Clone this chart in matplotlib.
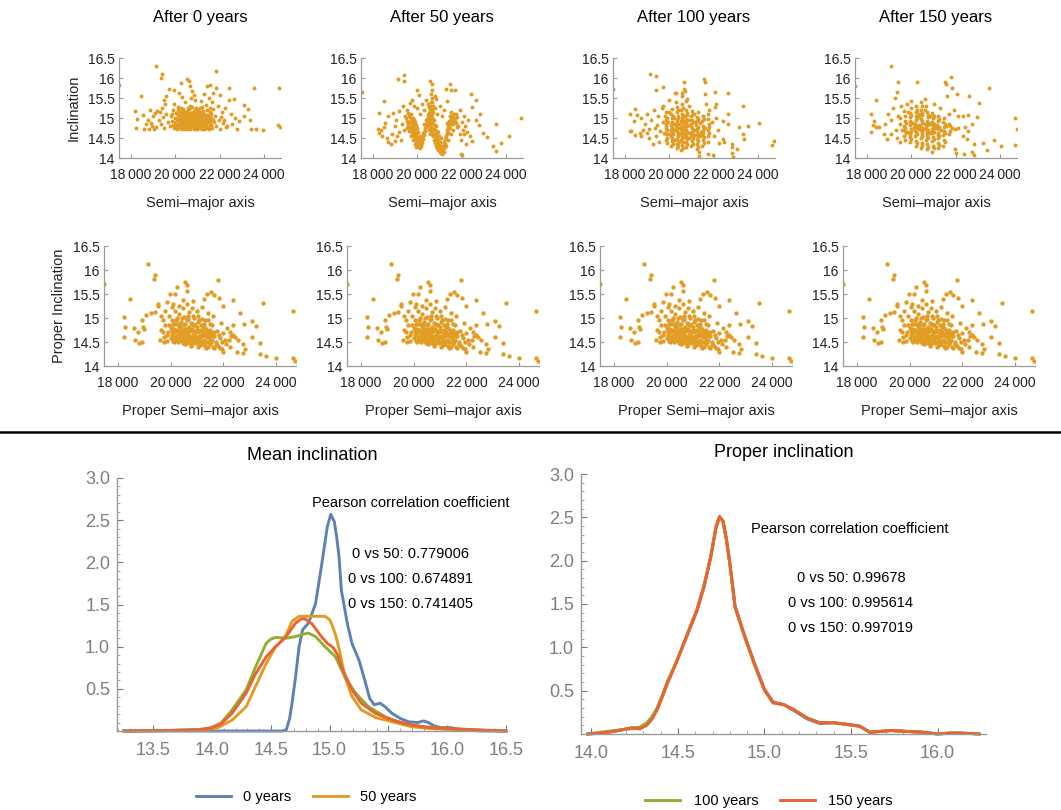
import numpy as np
import matplotlib
matplotlib.use("Agg")
import matplotlib.pyplot as plt
from matplotlib.lines import Line2D
from matplotlib.ticker import FuncFormatter, MultipleLocator

plt.rcParams['font.family'] = ['Liberation Sans', 'DejaVu Sans']

# ---- scatter data: (semi-major axis [km], inclination [deg]) ----
mean_0 = [
    (17480, 15.83), (19120, 16.30), (19390, 16.09), (19360, 16.01), (18450, 15.55), (18190, 15.17),
    (18300, 14.97), (18220, 14.75), (18570, 15.07), (18600, 14.72), (18820, 14.72), (20240, 15.88),
    (20540, 15.98), (20610, 15.93), (20640, 15.80), (21810, 16.17), (21430, 15.80), (21580, 15.83),
    (21840, 15.76), (22400, 15.76), (23550, 15.76), (24640, 15.76), (22030, 15.58), (22630, 15.48),
    (22400, 15.44), (23070, 15.33), (23270, 15.22), (23070, 15.04), (23370, 14.94), (23410, 14.73),
    (23640, 14.72), (23940, 14.70), (24620, 14.82), (24700, 14.77), (22000, 14.72), (22330, 14.80),
    (22790, 14.72), (22860, 14.92), (19720, 15.73), (19920, 15.71), (20160, 15.63), (20290, 15.52),
    (20760, 15.67), (20840, 15.58),
    (18780, 14.95), (18900, 14.88), (19000, 15.05), (18950, 14.80), (19100, 15.12), (19200, 15.18),
    (19300, 15.15), (19400, 15.25), (19150, 14.78), (19250, 14.95), (19350, 14.85), (19450, 15.02),
    (19500, 14.75), (19550, 15.35), (19600, 15.10), (19650, 14.90), (18700, 14.85), (18870, 15.20),
    (19050, 14.72), (19480, 15.45), (19600, 15.55),
    (19750, 14.80), (19800, 15.05), (19850, 14.92), (19900, 15.20), (19950, 14.75), (20000, 15.00),
    (20020, 14.86), (20050, 15.12), (20080, 14.73), (20100, 14.95), (20130, 15.28), (20150, 14.82),
    (20180, 15.05), (20200, 14.90), (20220, 15.15), (20250, 14.76), (20270, 14.98), (20300, 15.08),
    (20320, 14.85), (20350, 15.22), (20370, 14.93), (20400, 15.02), (20420, 14.78), (20450, 15.12),
    (20470, 14.88), (20500, 15.00), (20520, 14.72), (20540, 15.18), (20560, 14.95), (20590, 14.83),
    (20610, 15.06), (20630, 14.92), (20660, 15.30), (20680, 14.75), (20700, 15.00), (20720, 14.87),
    (20750, 15.10), (20770, 14.96), (20800, 14.80), (20820, 15.04), (20850, 14.90), (20870, 15.20),
    (20900, 14.74), (20920, 15.00), (20950, 14.86), (20970, 15.12), (21000, 14.95), (21030, 14.78),
    (21050, 15.05), (21080, 14.90), (21100, 15.25), (21130, 14.82), (21150, 15.00), (21180, 14.72),
    (21200, 15.10), (21230, 14.93), (21260, 15.18), (21290, 14.80), (21320, 15.02), (21350, 14.88),
    (21380, 15.32), (21400, 14.76), (21440, 15.08), (21470, 14.95), (21500, 14.72), (21540, 15.15),
    (21580, 14.85), (21620, 15.00), (21660, 14.74), (21700, 15.22), (21750, 14.90), (21800, 15.05),
    (20060, 14.98), (20140, 15.08), (20210, 14.96), (20290, 15.00), (20340, 14.94), (20390, 14.88),
    (20440, 15.04), (20490, 14.94), (20530, 14.86), (20580, 15.02), (20640, 14.98), (20690, 15.08),
    (20740, 14.92), (20790, 15.02), (20840, 14.96), (20890, 15.08), (20940, 14.94), (20990, 15.02),
    (21040, 14.98), (21090, 14.84), (21140, 15.06), (21190, 14.90), (21240, 15.00), (21310, 14.94),
    (21370, 15.02), (21430, 14.90), (21520, 14.96), (21600, 15.10), (20120, 14.78), (20230, 14.84),
    (20330, 14.78), (20480, 14.80), (20570, 14.76), (20710, 14.80), (20860, 14.78), (21010, 14.84),
    (21160, 14.80), (21330, 14.76), (20410, 15.16), (20610, 15.22), (20810, 15.15), (21010, 15.20),
    (20260, 15.24), (21210, 15.28), (21650, 15.40), (21900, 15.30), (21950, 14.95), (22100, 15.15),
    (22150, 14.88), (22250, 15.25), (22300, 14.78), (22500, 15.10), (22550, 14.85), (22700, 15.00),
    (20450, 15.40), (20900, 15.45), (21150, 15.42), (21500, 15.50), (19950, 15.35), (20700, 15.50),
    (21300, 15.60), (21700, 15.62),
    (20210, 14.88), (20260, 15.06), (20310, 14.92), (20360, 15.10), (20410, 14.84), (20460, 14.97),
    (20510, 15.08), (20560, 14.90), (20610, 14.80), (20660, 14.95), (20710, 15.12), (20760, 14.85),
    (20810, 14.98), (20860, 15.10), (20910, 14.90), (20960, 14.80), (21010, 15.00), (21060, 15.14),
    (21110, 14.92), (21160, 15.04), (21210, 14.86), (21260, 14.96), (21310, 15.10), (21360, 14.82),
    (21410, 15.00), (21460, 14.78), (21510, 15.06), (21560, 14.92), (21610, 14.82), (21710, 14.96),
    (20000, 14.90), (19900, 14.82), (19850, 15.10), (20050, 14.80), (20170, 14.95), (20240, 14.72),
    (20380, 14.73), (20500, 14.74), (20650, 14.72), (20820, 14.73), (20980, 14.72), (21120, 14.74),
    (21280, 14.73), (21450, 14.74), (20300, 15.15), (20550, 15.25), (20750, 15.28), (20950, 15.25),
    (21100, 15.15), (21420, 15.20), (20430, 14.99), (20620, 15.12), (20880, 15.00), (21070, 14.90),
    (21270, 15.08), (20140, 15.20), (21850, 14.80), (22050, 15.02), (22200, 14.95), (21580, 15.25),
]

mean_50 = [
    (17530, 15.65), (18490, 15.42), (18270, 15.13), (18240, 14.72), (18390, 14.70), (18300, 14.62),
    (18420, 14.55), (18500, 14.78), (18620, 14.50), (18680, 14.40), (18800, 14.35), (18550, 14.88),
    (18700, 15.05), (18850, 14.60), (19000, 14.80), (19150, 15.98), (19420, 16.08), (19400, 15.93),
    (19970, 15.71), (20070, 15.57), (20570, 15.92), (20640, 15.86), (20680, 15.70), (20610, 15.60),
    (20790, 15.55), (20840, 15.48), (21460, 15.85), (21280, 15.72), (21530, 15.70), (21700, 15.70),
    (21340, 15.42), (22410, 15.59), (22440, 15.28), (22640, 15.45), (22820, 15.10), (22630, 14.95),
    (22780, 14.82), (22930, 14.62), (23150, 14.52), (23380, 14.30), (23530, 14.18), (23760, 14.38),
    (24100, 14.55), (24640, 14.99), (23550, 14.85), (22010, 14.07), (21970, 14.10), (22200, 14.35),
    (22350, 14.55), (22100, 14.60), (22450, 14.42),
    (18900, 15.12), (19050, 14.95), (19200, 15.18), (19300, 14.85), (19350, 15.30), (19100, 14.55),
    (19250, 14.45), (19400, 14.70), (19450, 15.05), (19550, 15.20), (19650, 15.38), (19750, 15.45),
    (19850, 15.30), (19200, 14.65), (19000, 14.42),
    (19500, 15.00), (19550, 14.92), (19600, 14.85), (19620, 15.05), (19650, 14.78), (19700, 14.95),
    (19720, 14.70), (19750, 14.85), (19780, 14.62), (19800, 14.78), (19830, 14.55), (19850, 14.70),
    (19880, 14.48), (19900, 14.62), (19930, 14.42), (19950, 14.55), (19980, 14.36), (20000, 14.50),
    (20030, 14.30), (20050, 14.42), (20080, 14.27), (20100, 14.35), (20120, 14.25), (20130, 14.45),
    (19700, 15.10), (19800, 15.00), (19900, 14.90), (20000, 14.75), (20050, 14.65), (20100, 14.55),
    (19950, 14.82), (19850, 14.95), (20150, 14.40),
    (20150, 14.30), (20180, 14.42), (20200, 14.38), (20220, 14.55), (20250, 14.48), (20280, 14.65),
    (20300, 14.58), (20330, 14.75), (20350, 14.68), (20380, 14.85), (20400, 14.78), (20430, 14.95),
    (20450, 14.88), (20480, 15.05), (20500, 14.98), (20530, 15.12), (20550, 15.02), (20580, 15.20),
    (20600, 14.90), (20620, 15.30), (20640, 15.00), (20650, 14.75), (20660, 15.10), (20670, 14.62),
    (20680, 15.40), (20600, 15.15), (20630, 14.85), (20700, 14.95), (20560, 14.78), (20520, 14.70),
    (20480, 14.80),
    (20700, 14.55), (20720, 14.85), (20750, 14.45), (20770, 14.72), (20800, 14.38), (20820, 14.62),
    (20850, 14.30), (20870, 14.55), (20900, 14.25), (20920, 14.45), (20950, 14.20), (20970, 14.38),
    (21000, 14.16), (21020, 14.30), (21050, 14.12), (21080, 14.25), (21100, 14.10), (21130, 14.20),
    (21160, 14.15), (20760, 14.95), (20850, 14.80), (20950, 14.65), (21050, 14.50),
    (21200, 14.25), (21220, 14.40), (21250, 14.35), (21280, 14.55), (21300, 14.48), (21330, 14.70),
    (21350, 14.62), (21380, 14.82), (21400, 14.75), (21430, 14.92), (21460, 14.85), (21500, 15.00),
    (21530, 14.92), (21560, 15.05), (21600, 14.95), (21650, 15.10), (21700, 15.00), (21750, 14.88),
    (21800, 15.02), (21300, 14.30), (21400, 14.45), (21500, 14.60), (21600, 14.70),
    (21850, 14.80), (21900, 14.60), (21950, 14.45), (22000, 14.90), (22050, 14.70), (22150, 14.80),
    (22250, 14.65), (22300, 14.95), (21900, 15.20), (22100, 15.05),
    (20300, 15.20), (20200, 15.35), (20400, 15.45), (20500, 15.35), (20800, 15.25), (20900, 15.10),
    (21000, 15.30), (21100, 15.05), (21200, 15.20), (20100, 15.10), (20000, 15.25),
    (19560, 14.80), (19640, 14.68), (19720, 14.55), (19800, 14.45), (19880, 14.35), (19960, 14.28),
    (19600, 15.12), (19680, 15.02), (19760, 14.92), (19840, 14.82), (19920, 14.72), (20000, 14.62),
    (20070, 14.48), (20170, 14.55), (20250, 14.62), (20320, 14.85), (20400, 14.95), (20470, 15.10),
    (20540, 15.28), (20600, 15.40), (20650, 15.50), (20700, 15.30), (20620, 14.70), (20590, 14.60),
    (20660, 14.88), (20640, 15.22), (20600, 15.05), (20690, 15.15), (20730, 14.70), (20780, 14.60),
    (20830, 14.50), (20880, 14.40), (20930, 14.32), (20980, 14.25), (20800, 14.82), (20880, 14.68),
    (20960, 14.55), (21030, 14.40), (21100, 14.30), (21180, 14.35), (21250, 14.48), (21320, 14.60),
    (21400, 14.65), (21470, 14.75), (21550, 14.85), (21350, 14.88), (21450, 15.05), (21530, 15.15),
    (21620, 14.85), (21680, 14.92), (21200, 14.15), (21060, 14.22), (19650, 14.90), (19550, 14.75),
    (20500, 14.88), (20560, 14.95), (20540, 15.08), (20460, 15.00), (21720, 15.10), (21780, 14.78),
]

mean_100 = [
    (17470, 15.72), (19150, 16.11), (19410, 16.04), (19380, 15.71), (19730, 15.77), (20320, 15.62),
    (20250, 15.63), (20570, 15.62), (20650, 15.90), (20650, 15.72), (20720, 15.68), (20550, 15.55),
    (20810, 15.48), (21540, 15.97), (21600, 15.90), (21610, 15.60), (22050, 15.65), (22650, 15.62),
    (23290, 15.30), (21650, 15.35), (22090, 15.35), (22050, 15.27), (18220, 15.10), (18450, 15.23),
    (18570, 15.07), (18750, 15.00), (18420, 14.93), (18300, 14.68), (18220, 14.67), (18480, 14.58),
    (18700, 14.62), (18750, 14.55), (18820, 14.70), (22650, 15.10), (22430, 14.93), (22650, 14.85),
    (23120, 14.78), (23530, 14.80), (24030, 14.87), (23320, 14.60), (23360, 14.48), (22800, 14.35),
    (22840, 14.27), (22840, 14.12), (22880, 14.02), (23060, 14.23), (24630, 14.32), (24720, 14.42),
    (22430, 14.48), (22240, 14.38), (22480, 14.40), (21970, 14.07), (21720, 14.11), (21320, 14.15),
    (21350, 14.05),
    (18900, 14.85), (19000, 15.10), (19100, 14.72), (19200, 14.95), (19300, 15.20), (19400, 14.55),
    (19450, 14.82), (19500, 15.05), (19550, 14.40), (19600, 14.68), (19650, 15.25), (19100, 14.50),
    (19250, 14.35), (19000, 14.62), (19350, 14.75),
    (19840, 14.45), (19860, 14.60), (19830, 14.72), (19870, 14.85), (19850, 14.95), (19820, 15.05),
    (19860, 15.15), (19880, 14.38), (19840, 14.80),
    (20090, 14.30), (20110, 14.42), (20080, 14.55), (20120, 14.65), (20100, 14.75), (20070, 14.82),
    (20110, 14.90), (20130, 15.00), (20090, 15.10), (20100, 15.22), (20120, 14.50), (20080, 14.70),
    (20340, 14.25), (20360, 14.35), (20330, 14.48), (20370, 14.58), (20350, 14.68), (20320, 14.78),
    (20360, 14.88), (20340, 14.95), (20380, 15.05), (20350, 15.15), (20330, 15.28), (20370, 14.62),
    (20350, 14.85),
    (20540, 14.20), (20560, 14.32), (20530, 14.45), (20570, 14.55), (20550, 14.65), (20520, 14.72),
    (20560, 14.80), (20540, 14.92), (20580, 15.00), (20550, 15.10), (20530, 15.20), (20560, 15.35),
    (20570, 14.50), (20540, 14.75),
    (20740, 14.28), (20760, 14.40), (20730, 14.52), (20770, 14.62), (20750, 14.70), (20720, 14.78),
    (20760, 14.88), (20740, 14.98), (20780, 15.08), (20750, 15.20), (20730, 15.42), (20770, 14.58),
    (20750, 14.85),
    (20990, 14.30), (21010, 14.42), (20980, 14.55), (21020, 14.65), (21000, 14.75), (20970, 14.85),
    (21010, 14.95), (20990, 15.05), (21030, 15.18), (21000, 14.60), (20980, 14.80),
    (21240, 14.22), (21260, 14.35), (21230, 14.48), (21270, 14.60), (21250, 14.72), (21220, 14.82),
    (21260, 14.92), (21240, 15.02), (21280, 15.15), (21250, 14.68),
    (21490, 14.30), (21510, 14.45), (21480, 14.58), (21520, 14.70), (21500, 14.80), (21470, 14.92),
    (21510, 15.05), (21500, 14.62),
    (21740, 14.40), (21760, 14.55), (21730, 14.70), (21770, 14.85), (21750, 14.98), (21720, 15.10),
    (19950, 14.90), (20230, 14.70), (20230, 15.00), (20450, 14.40), (20450, 14.85), (20650, 14.60),
    (20650, 15.05), (20880, 14.50), (20880, 14.95), (21120, 14.70), (21120, 15.10), (21380, 14.55),
    (21380, 14.88), (21620, 14.75), (21900, 14.90), (22000, 14.55), (22100, 15.00), (22200, 14.70),
    (21800, 15.20), (20300, 15.40), (20900, 15.30), (19700, 15.30), (20000, 15.45),
    (19900, 14.50), (19900, 14.70), (19900, 15.00), (20150, 14.35), (20150, 14.60), (20150, 14.85),
    (20150, 15.05), (20400, 14.30), (20400, 14.55), (20400, 14.75), (20400, 15.00), (20400, 15.20),
    (20600, 14.25), (20600, 14.40), (20600, 14.70), (20600, 14.88), (20600, 15.05), (20600, 15.25),
    (20800, 14.35), (20800, 14.48), (20800, 14.65), (20800, 14.80), (20800, 14.95), (20800, 15.12),
    (21050, 14.35), (21050, 14.50), (21050, 14.70), (21050, 14.90), (21050, 15.10), (21300, 14.28),
    (21300, 14.42), (21300, 14.55), (21300, 14.78), (21300, 14.98), (21550, 14.38), (21550, 14.52),
    (21550, 14.75), (21550, 14.98), (21800, 14.62), (21800, 14.78), (20250, 14.45), (20250, 14.85),
    (20480, 14.62), (20680, 14.52), (20680, 14.92), (20920, 14.62), (20920, 14.82), (21170, 14.58),
    (21170, 14.90), (21420, 14.66), (20000, 14.60), (20000, 15.15), (19750, 14.62), (19700, 14.90),
]

mean_150 = [
    (17480, 15.79), (19110, 16.29), (19380, 15.90), (19340, 15.65), (19270, 15.50), (18410, 15.46),
    (18190, 15.09), (18340, 14.92), (18270, 14.83), (18410, 14.77), (18560, 14.77), (18190, 14.65),
    (18780, 14.60), (18900, 14.48), (20250, 15.90), (21520, 15.90), (21560, 15.85), (21790, 16.03),
    (21820, 15.75), (21600, 15.55), (22040, 15.61), (23040, 15.38), (23500, 15.75), (22600, 15.54),
    (22100, 15.05), (22310, 15.05), (22560, 15.07), (22970, 15.02), (22750, 14.85), (22410, 14.77),
    (22530, 14.67), (22310, 14.55), (22500, 14.47), (22830, 14.35), (22750, 14.15), (22800, 14.08),
    (22380, 14.10), (22000, 14.12), (23220, 14.38), (23400, 14.20), (23710, 14.44), (24020, 14.30),
    (24680, 15.01), (24740, 14.73), (24640, 14.33), (21950, 14.22),
    (19690, 14.55), (19710, 14.68), (19680, 14.80), (19720, 14.92), (19700, 15.05), (19690, 15.18),
    (19710, 14.45), (19700, 14.75),
    (19940, 14.40), (19960, 14.52), (19930, 14.62), (19970, 14.72), (19950, 14.82), (19920, 14.92),
    (19960, 15.02), (19940, 15.12), (19980, 15.25), (19950, 14.58),
    (20190, 14.30), (20210, 14.42), (20180, 14.55), (20220, 14.65), (20200, 14.75), (20170, 14.85),
    (20210, 14.95), (20190, 15.05), (20230, 15.15), (20200, 15.30), (20180, 14.70),
    (20440, 14.25), (20460, 14.38), (20430, 14.50), (20470, 14.60), (20450, 14.70), (20420, 14.78),
    (20460, 14.88), (20440, 14.98), (20480, 15.08), (20450, 15.20), (20430, 15.40), (20470, 14.65),
    (20690, 14.22), (20710, 14.35), (20680, 14.45), (20720, 14.55), (20700, 14.65), (20670, 14.75),
    (20710, 14.82), (20690, 14.92), (20730, 15.02), (20700, 15.15), (20680, 15.30), (20720, 14.60),
    (20940, 14.15), (20960, 14.30), (20930, 14.42), (20970, 14.52), (20950, 14.62), (20920, 14.72),
    (20960, 14.80), (20940, 14.90), (20980, 15.00), (20950, 15.12), (20930, 14.68),
    (21190, 14.25), (21210, 14.38), (21180, 14.50), (21220, 14.62), (21200, 14.72), (21170, 14.82),
    (21210, 14.92), (21190, 15.05), (21200, 14.58),
    (21440, 14.30), (21460, 14.45), (21430, 14.58), (21470, 14.68), (21450, 14.78), (21420, 14.90),
    (21460, 15.00),
    (18800, 14.85), (18950, 15.10), (19100, 14.95), (19200, 15.25), (19300, 14.70), (19400, 15.05),
    (19500, 14.85), (19550, 15.30), (19100, 14.60), (19350, 14.50), (19500, 14.40), (21700, 14.60),
    (21700, 14.85), (21850, 14.75), (21950, 14.72), (22100, 14.75), (21700, 15.10), (21900, 15.20),
    (20000, 15.42), (20600, 15.48), (21000, 15.35), (21300, 15.25), (19800, 15.35), (19820, 14.65),
    (20080, 14.88), (20330, 14.82), (20580, 14.72), (20830, 14.85), (21080, 14.75), (21330, 14.70),
    (21580, 14.80), (20330, 15.10), (20830, 15.05),
    (19750, 14.62), (19750, 14.88), (20000, 14.48), (20000, 14.68), (20000, 14.88), (20000, 15.08),
    (20250, 14.38), (20250, 14.60), (20250, 14.80), (20250, 15.00), (20250, 15.20), (20500, 14.32),
    (20500, 14.55), (20500, 14.75), (20500, 14.92), (20500, 15.12), (20500, 15.30), (20750, 14.28),
    (20750, 14.50), (20750, 14.70), (20750, 14.88), (20750, 15.08), (21000, 14.25), (21000, 14.48),
    (21000, 14.65), (21000, 14.85), (21000, 15.05), (21250, 14.32), (21250, 14.55), (21250, 14.78),
    (21250, 14.98), (21500, 14.40), (21500, 14.62), (21500, 14.85), (21750, 14.68), (21750, 14.80),
    (20100, 14.78), (20350, 14.72), (20600, 14.85), (20850, 14.62), (21100, 14.80), (20350, 15.05),
    (20600, 15.20), (19850, 15.15), (19600, 14.70), (19500, 15.00),
]

# proper elements hardly move between epochs, the four lower panels share one cloud
proper_pts = [
    (17475, 15.71), (19125, 16.13), (19400, 15.90), (19375, 15.82), (18440, 15.40), (18210, 15.03),
    (18275, 14.82), (18210, 14.61), (18770, 14.70), (18810, 14.48), (18900, 14.50), (18950, 14.82),
    (19000, 14.78), (18650, 14.55), (18600, 14.80), (18900, 14.95), (19060, 15.07), (19250, 15.10),
    (19400, 15.13), (19500, 15.30), (19500, 15.25), (19850, 15.33), (19960, 15.50), (20160, 15.50),
    (20050, 15.22), (20250, 15.64), (20540, 15.75), (20630, 15.68), (20630, 15.56), (20460, 15.37),
    (21810, 15.80), (21380, 15.51), (21540, 15.54), (21630, 15.48), (21840, 15.42), (22000, 15.25),
    (22375, 15.38), (22630, 15.10), (22790, 14.88), (23090, 14.93), (23250, 14.83), (23500, 15.31),
    (24625, 15.15), (22380, 14.85), (22380, 14.65), (22560, 14.55), (22750, 14.45), (22810, 14.35),
    (22750, 14.27), (22500, 14.30), (22250, 14.40), (23080, 14.60), (23400, 14.48), (23380, 14.25),
    (23630, 14.20), (24000, 14.16), (24625, 14.16), (24725, 14.10), (21950, 14.35), (22000, 14.30),
    (21850, 14.38),
    (19600, 14.55), (19650, 14.75), (19700, 14.95), (19750, 14.60), (19800, 14.85), (19850, 14.52),
    (19900, 14.70), (19950, 15.05), (20000, 14.58), (20020, 14.80), (20050, 14.95), (20080, 14.52),
    (20100, 14.68), (20130, 14.88), (20150, 15.15), (20180, 14.55), (20200, 14.75), (20220, 14.98),
    (20250, 14.62), (20270, 14.50), (20300, 14.82), (20320, 15.08), (20350, 14.68), (20370, 14.55),
    (20400, 14.92), (20420, 14.75), (20450, 14.48), (20470, 14.62), (20500, 15.02), (20520, 14.85),
    (20540, 14.55), (20570, 14.70), (20600, 14.95), (20620, 14.48), (20650, 14.80), (20680, 14.62),
    (20700, 15.12), (20720, 14.52), (20750, 14.75), (20770, 14.90), (20800, 14.45), (20830, 14.65),
    (20850, 14.85), (20880, 14.55), (20900, 15.00), (20930, 14.70), (20950, 14.47), (20980, 14.82),
    (21000, 14.60), (21030, 14.92), (21050, 14.50), (21080, 14.72), (21100, 14.43), (21130, 14.85),
    (21150, 14.62), (21180, 14.98), (21200, 14.45), (21230, 14.70), (21250, 14.55), (21280, 14.88),
    (21300, 14.42), (21330, 14.65), (21350, 14.78), (21380, 14.50), (21400, 14.95), (21430, 14.40),
    (21450, 14.60), (21480, 14.75), (21500, 14.45), (21550, 14.85), (21600, 14.40), (21650, 14.62),
    (21700, 14.50), (21750, 14.72), (21800, 14.42), (21850, 14.58), (21900, 14.90), (21950, 14.50),
    (22000, 14.68), (22100, 14.45), (22150, 14.80), (22200, 14.55), (22300, 14.62),
    (20060, 14.65), (20160, 14.60), (20260, 14.72), (20360, 14.88), (20460, 14.58), (20560, 14.88),
    (20660, 14.55), (20760, 14.60), (20860, 14.72), (20960, 14.60), (21060, 14.62), (21160, 14.75),
    (21260, 14.65), (21360, 14.60), (21460, 14.68), (21560, 14.55), (20110, 14.78), (20310, 14.60),
    (20510, 14.68), (20710, 14.70), (20910, 14.85), (21110, 14.55), (21310, 14.80), (21510, 14.62),
    (20400, 14.65), (20600, 14.58), (20800, 14.78), (21000, 14.75), (21200, 14.62), (20700, 14.82),
    (20900, 14.62), (20300, 15.25), (20450, 15.20), (20600, 15.30), (20800, 15.20), (21000, 15.15),
    (21200, 15.22), (21400, 15.10), (21600, 15.05), (19650, 15.05), (19800, 15.15), (20100, 15.30),
    (20850, 15.35), (21250, 15.40), (21050, 15.05), (20250, 15.00), (20650, 15.05),
    (20030, 14.72), (20130, 14.50), (20230, 14.88), (20330, 14.66), (20430, 14.52), (20530, 14.78),
    (20630, 14.65), (20730, 14.48), (20830, 14.88), (20930, 14.52), (21030, 14.70), (21130, 14.48),
    (21230, 14.82), (21330, 14.50), (21430, 14.72), (21530, 14.50), (21630, 14.70), (21730, 14.45),
    (21830, 14.65), (20080, 14.88), (20180, 14.70), (20280, 14.58), (20380, 14.80), (20480, 14.70),
    (20580, 14.52), (20680, 14.72), (20780, 14.55), (20880, 14.65), (20980, 14.50), (21080, 14.58),
    (21180, 14.68), (21280, 14.52), (21380, 14.70), (21480, 14.55), (21580, 14.68), (20200, 14.95),
    (20420, 15.00), (20640, 14.98), (20860, 15.05), (21080, 14.95), (21300, 14.95), (21500, 14.88),
    (19700, 14.70), (19850, 14.65), (19950, 14.85), (19750, 14.50), (22050, 14.55), (22250, 14.70),
    (22450, 14.60), (20550, 14.45), (20750, 14.42), (21050, 14.40), (21350, 14.38), (21650, 14.38),
]

years = [0, 50, 100, 150]
mean_clouds = [mean_0, mean_50, mean_100, mean_150]

# ---- density curves ----
mean_x_0 = [13.25, 14.0, 14.6, 14.63, 14.66, 14.68, 14.71, 14.74, 14.77, 14.82, 14.88, 14.93, 14.98,
            15.01, 15.04, 15.06, 15.08, 15.10, 15.15, 15.19, 15.25, 15.30, 15.34, 15.38, 15.43, 15.47,
            15.53, 15.60, 15.67, 15.75, 15.80, 15.84, 15.89, 15.95, 16.03, 16.10, 16.18, 16.30, 16.50]
mean_d_0 = [0.0, 0.0, 0.0, 0.01, 0.15, 0.33, 0.64, 1.0, 1.2, 1.28, 1.51, 1.95, 2.42,
            2.57, 2.48, 2.30, 2.07, 1.67, 1.28, 1.04, 0.84, 0.60, 0.39, 0.31, 0.33, 0.29,
            0.21, 0.15, 0.11, 0.10, 0.12, 0.10, 0.06, 0.04, 0.04, 0.02, 0.01, 0.0, 0.0]

mean_x_50 = [13.25, 13.6, 13.9, 14.05, 14.17, 14.29, 14.37, 14.46, 14.54, 14.60, 14.63, 14.68, 14.74,
             14.85, 14.96, 15.00, 15.02, 15.05, 15.08, 15.13, 15.19, 15.27, 15.39, 15.53, 15.70, 15.85,
             16.00, 16.20, 16.50]
mean_d_50 = [0.0, 0.005, 0.01, 0.04, 0.13, 0.29, 0.53, 0.80, 1.0, 1.08, 1.14, 1.30, 1.36,
             1.36, 1.36, 1.32, 1.26, 1.14, 0.98, 0.64, 0.41, 0.25, 0.16, 0.11, 0.05, 0.03,
             0.02, 0.01, 0.0]

mean_x_100 = [13.25, 13.6, 13.9, 14.0, 14.08, 14.17, 14.29, 14.37, 14.46, 14.50, 14.54, 14.63, 14.71,
              14.78, 14.82, 14.88, 14.96, 15.05, 15.13, 15.22, 15.33, 15.47, 15.58, 15.70, 15.80,
              16.00, 16.30, 16.50]
mean_d_100 = [0.0, 0.005, 0.02, 0.04, 0.10, 0.25, 0.49, 0.76, 1.04, 1.09, 1.11, 1.10, 1.12,
              1.15, 1.16, 1.12, 1.0, 0.88, 0.64, 0.45, 0.29, 0.17, 0.11, 0.07, 0.05,
              0.03, 0.01, 0.0]

mean_x_150 = [13.25, 13.6, 13.9, 14.0, 14.08, 14.17, 14.29, 14.37, 14.46, 14.54, 14.63, 14.71, 14.76,
              14.79, 14.85, 14.93, 14.98, 15.03, 15.07, 15.10, 15.19, 15.27, 15.39, 15.53, 15.70,
              15.85, 16.00, 16.30, 16.50]
mean_d_150 = [0.0, 0.005, 0.015, 0.04, 0.09, 0.21, 0.45, 0.68, 0.88, 1.0, 1.12, 1.28, 1.33,
              1.33, 1.27, 1.12, 1.04, 0.99, 0.90, 0.76, 0.49, 0.33, 0.21, 0.13, 0.07,
              0.04, 0.03, 0.01, 0.0]

proper_x = [13.98, 14.05, 14.13, 14.18, 14.23, 14.28, 14.32, 14.35, 14.38, 14.41, 14.44, 14.49, 14.55,
            14.61, 14.65, 14.69, 14.72, 14.74, 14.76, 14.78, 14.80, 14.83, 14.88, 14.94, 15.00, 15.05,
            15.11, 15.17, 15.25, 15.32, 15.40, 15.48, 15.55, 15.61, 15.67, 15.73, 15.82, 15.92, 16.00,
            16.07, 16.13, 16.20, 16.24]
proper_d_0 = [0.0, 0.01, 0.03, 0.05, 0.07, 0.07, 0.12, 0.19, 0.29, 0.44, 0.59, 0.82, 1.12,
              1.42, 1.69, 2.04, 2.38, 2.50, 2.46, 2.25, 1.97, 1.48, 1.17, 0.83, 0.52, 0.37,
              0.34, 0.27, 0.17, 0.12, 0.13, 0.11, 0.09, 0.02, 0.03, 0.04, 0.03, 0.02, 0.0,
              0.01, 0.01, 0.005, 0.0]
proper_d_50 = [0.0, 0.01, 0.03, 0.05, 0.07, 0.06, 0.11, 0.18, 0.28, 0.43, 0.59, 0.83, 1.13,
               1.44, 1.71, 2.05, 2.39, 2.51, 2.46, 2.25, 1.96, 1.46, 1.16, 0.82, 0.51, 0.36,
               0.34, 0.28, 0.18, 0.13, 0.13, 0.11, 0.09, 0.02, 0.03, 0.04, 0.03, 0.02, 0.0,
               0.01, 0.01, 0.005, 0.0]
proper_d_100 = [0.0, 0.02, 0.04, 0.05, 0.06, 0.08, 0.13, 0.20, 0.30, 0.45, 0.61, 0.83, 1.12,
                1.42, 1.70, 2.05, 2.38, 2.50, 2.46, 2.24, 1.97, 1.47, 1.15, 0.81, 0.50, 0.36,
                0.34, 0.28, 0.18, 0.13, 0.13, 0.11, 0.09, 0.02, 0.03, 0.04, 0.03, 0.02, 0.0,
                0.01, 0.01, 0.005, 0.0]
proper_d_150 = [0.0, 0.01, 0.03, 0.05, 0.07, 0.06, 0.10, 0.17, 0.28, 0.43, 0.59, 0.82, 1.13,
                1.43, 1.70, 2.05, 2.39, 2.51, 2.46, 2.25, 1.97, 1.47, 1.16, 0.82, 0.51, 0.36,
                0.34, 0.28, 0.18, 0.13, 0.13, 0.11, 0.09, 0.02, 0.03, 0.04, 0.03, 0.02, 0.0,
                0.01, 0.01, 0.005, 0.0]

mean_pearson = ["0 vs 50: 0.779006", "0 vs 100: 0.674891", "0 vs 150: 0.741405"]
proper_pearson = ["0 vs 50: 0.99678", "0 vs 100: 0.995614", "0 vs 150: 0.997019"]

DOT = '#E19C24'
SERIES_COLORS = ['#5E81B5', '#E19C24', '#8FB032', '#EB6235']
AXIS_GRAY = '#9a9a9a'

W, H = 1061, 810
fig = plt.figure(figsize=(W / 100, H / 100), dpi=100)


def px_axes(left, top, width, height):
    return fig.add_axes([left / W, 1 - (top + height) / H, width / W, height / H])


def style_scatter(ax):
    for side in ('top', 'right'):
        ax.spines[side].set_visible(False)
    for side in ('left', 'bottom'):
        ax.spines[side].set_color(AXIS_GRAY)
        ax.spines[side].set_linewidth(0.9)
    ax.set_xlim(17470, 24750)
    ax.set_ylim(14, 16.5)
    ax.set_xticks([18000, 20000, 22000, 24000])
    ax.xaxis.set_major_formatter(FuncFormatter(lambda v, p: f"{int(v) // 1000}\u2009000"))
    ax.set_yticks([14, 14.5, 15, 15.5, 16, 16.5])
    ax.yaxis.set_major_formatter(FuncFormatter(lambda v, p: f"{v:g}"))
    ax.tick_params(direction='in', length=3, width=0.8, color=AXIS_GRAY,
                   labelsize=10, labelcolor='#222222')
    ax.tick_params(axis='x', pad=7)
    ax.tick_params(axis='y', pad=3)


# top row: mean elements
top_lefts = [119, 361, 613, 855]
for k, (yr, cloud) in enumerate(zip(years, mean_clouds)):
    ax = px_axes(top_lefts[k], 58, 162, 100)
    pts = np.array(cloud)
    ax.scatter(pts[:, 0], pts[:, 1], s=8, color=DOT, linewidths=0)
    style_scatter(ax)
    ax.set_title(f"After {yr} years", fontsize=12, pad=26)
    ax.set_xlabel("Semi\u2013major axis", fontsize=10.5, labelpad=10, color='#222222')
    if k == 0:
        ax.set_ylabel("Inclination", fontsize=10.5, labelpad=5, color='#222222')

# second row: proper elements
bot_lefts = [104, 347, 600, 843]
pp = np.array(proper_pts)
for k in range(4):
    ax = px_axes(bot_lefts[k], 246, 192, 120)
    ax.scatter(pp[:, 0], pp[:, 1], s=10, color=DOT, linewidths=0)
    style_scatter(ax)
    ax.set_xlabel("Proper Semi\u2013major axis", fontsize=10.5, labelpad=10, color='#222222')
    if k == 0:
        ax.set_ylabel("Proper Inclination", fontsize=10.5, labelpad=5, color='#222222')

# separator
fig.add_artist(Line2D([0, 1], [1 - 432 / H, 1 - 432 / H], color='black', lw=1.8))


def style_density(ax, xmin, xmax, xticks):
    for side in ('top', 'right'):
        ax.spines[side].set_visible(False)
    for side in ('left', 'bottom'):
        ax.spines[side].set_color(AXIS_GRAY)
        ax.spines[side].set_linewidth(1.0)
    ax.set_xlim(xmin, xmax)
    ax.set_ylim(0, 3.0)
    ax.set_xticks(xticks)
    ax.set_yticks([0.5, 1.0, 1.5, 2.0, 2.5, 3.0])
    ax.xaxis.set_major_formatter(FuncFormatter(lambda v, p: f"{v:.1f}"))
    ax.yaxis.set_major_formatter(FuncFormatter(lambda v, p: f"{v:.1f}"))
    ax.xaxis.set_minor_locator(MultipleLocator(0.1))
    ax.yaxis.set_minor_locator(MultipleLocator(0.1))
    ax.tick_params(which='major', direction='in', length=4, width=0.8, color='#777777',
                   labelsize=13, labelcolor='#7f7f7f')
    ax.tick_params(which='minor', direction='in', length=2, width=0.6, color='#999999')
    ax.tick_params(axis='x', which='major', pad=8)
    ax.tick_params(axis='y', which='major', pad=5)


ax_m = px_axes(117, 478, 390, 253)
mean_curves = [(mean_x_0, mean_d_0), (mean_x_50, mean_d_50),
               (mean_x_100, mean_d_100), (mean_x_150, mean_d_150)]
mean_lines = []
for (xs, ds), col, yr in zip(mean_curves, SERIES_COLORS, years):
    ln, = ax_m.plot(xs, ds, color=col, lw=2.1, solid_joinstyle='round', label=f"{yr} years",
                    clip_on=False)
    mean_lines.append(ln)
style_density(ax_m, 13.19, 16.51, [13.5, 14.0, 14.5, 15.0, 15.5, 16.0, 16.5])
ax_m.set_title("Mean inclination", fontsize=13, pad=13)
ax_m.text(15.69, 2.70, "Pearson correlation coefficient", ha='center', va='center', fontsize=10.5)
for j, s in enumerate(mean_pearson):
    ax_m.text(15.69, 2.10 - 0.295 * j, s, ha='center', va='center', fontsize=10.5)
ax_m.legend(handles=mean_lines[:2], loc='center', bbox_to_anchor=(306 / W, 1 - 797 / H),
            bbox_transform=fig.transFigure, ncol=2, frameon=False, fontsize=10.5,
            handlelength=2.4, handletextpad=0.8, columnspacing=1.5)

ax_p = px_axes(581, 474, 405, 260)
proper_curves = [proper_d_0, proper_d_50, proper_d_100, proper_d_150]
proper_lines = []
for ds, col, yr in zip(proper_curves, SERIES_COLORS, years):
    ln, = ax_p.plot(proper_x, ds, color=col, lw=2.1, solid_joinstyle='round', label=f"{yr} years",
                    clip_on=False)
    proper_lines.append(ln)
style_density(ax_p, 13.94, 16.28, [14.0, 14.5, 15.0, 15.5, 16.0])
ax_p.set_title("Proper inclination", fontsize=13, pad=12)
ax_p.text(15.49, 2.37, "Pearson correlation coefficient", ha='center', va='center', fontsize=10.5)
for j, s in enumerate(proper_pearson):
    ax_p.text(15.50, 1.80 - 0.29 * j, s, ha='center', va='center', fontsize=10.5)
ax_p.legend(handles=proper_lines[2:], loc='center', bbox_to_anchor=(769 / W, 1 - 801 / H),
            bbox_transform=fig.transFigure, ncol=2, frameon=False, fontsize=10.5,
            handlelength=2.4, handletextpad=0.9, columnspacing=1.5)

fig.savefig("out.png", dpi=100)
